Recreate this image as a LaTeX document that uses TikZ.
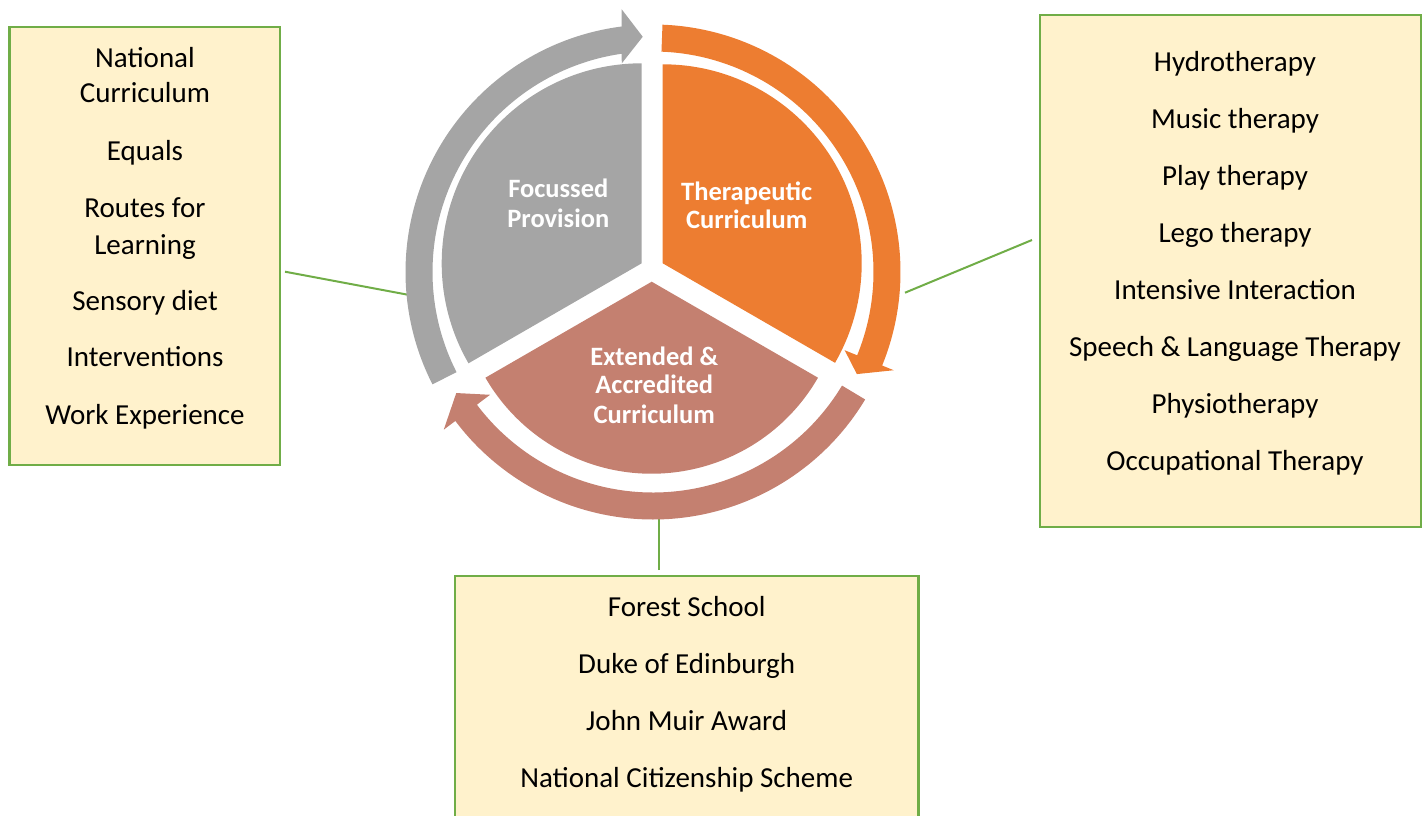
\documentclass[tikz,border=0pt]{standalone}
\usepackage{fontspec}
\setmainfont{Carlito}
\definecolor{segGray}{HTML}{A5A5A5}
\definecolor{segOrange}{HTML}{ED7D31}
\definecolor{segBrown}{HTML}{C48070}
\definecolor{boxFill}{HTML}{FFF2CC}
\definecolor{boxLine}{HTML}{70AD47}
\begin{document}
\begin{tikzpicture}[x=1pt,y=-1pt,
  listbox/.style={draw=boxLine, fill=boxFill, line width=2.3pt, inner sep=0pt},
  listtext/.style={font=\fontsize{29}{35}\selectfont, anchor=base, inner sep=0pt},
  segtext/.style={font=\fontsize{26.5}{30}\selectfont\bfseries, text=white, anchor=base, inner sep=0pt},
  link/.style={draw=boxLine, line width=2pt}]
\useasboundingbox (0,0) rectangle (1422,816);

% boxes
\node[listbox, minimum width=270.7pt, minimum height=437.7pt] (leftbox) at (144.7,246.2) {};
\node[listbox, minimum width=381pt, minimum height=512pt] (rightbox) at (1230.5,271) {};
\node[listbox, minimum width=463.3pt, minimum height=254pt] (bottombox) at (686.7,703) {};

% connector end points
\coordinate (lA) at (285,271.7);
\coordinate (lB) at (409.3,295);
\coordinate (rA) at (1032,240);
\coordinate (rB) at (905,292.7);
\coordinate (bA) at (659,570);
\coordinate (bB) at (659,514);
\draw[link] (lA) -- (lB);
\draw[link] (rA) -- (rB);
\draw[link] (bA) -- (bB);

% pie segments
\fill[segGray] (641.7,263.3) -- ++(-90:200) arc[start angle=-90, end angle=-210, radius=200] -- cycle;
\fill[segOrange] (662.7,263.3) -- ++(-90:199) arc[start angle=-90, end angle=30, radius=199] -- cycle;
\fill[segBrown] (651.7,281.7) -- ++(30:192) arc[start angle=30, end angle=150, radius=192] -- cycle;

% circular arrows
\begin{scope}[shift={(653,272)}]
\fill[segGray] (-207:247.5) arc[start angle=-207, end angle=-97.3, radius=247.5]
  -- (-96.8:264.6) -- (-92.5:235.5) -- (-98.5:211) -- (-98.2:220.5)
  arc[start angle=-98.2, end angle=-207, radius=220.5] -- cycle;
\fill[segOrange] (-87.8:247.5) arc[start angle=-87.8, end angle=22.2, radius=247.5]
  -- (22.2:260) -- (26.6:228) -- (22.2:207) -- (22.2:220.5)
  arc[start angle=22.2, end angle=-87.8, radius=220.5] -- cycle;
\fill[segBrown] (31:247.5) arc[start angle=31, end angle=143, radius=247.5]
  -- (143:262) -- (148.4:231) -- (143:204) -- (143:220.5)
  arc[start angle=143, end angle=31, radius=220.5] -- cycle;
\end{scope}

% segment labels
\node[segtext] (fp1) at (558.3,197.3) {Focussed};
\node[segtext] (fp2) at (558.3,227.3) {Provision};
\node[segtext] (tc1) at (746.7,200) {Therapeutic};
\node[segtext] (tc2) at (746.7,228.3) {Curriculum};
\node[segtext] (ea1) at (654.3,365) {Extended \&};
\node[segtext] (ea2) at (654.3,393.3) {Accredited};
\node[segtext] (ea3) at (654.3,423.3) {Curriculum};

% list texts
\foreach \t/\y [count=\i] in {National/67.3, Curriculum/102.7, Equals/160, Routes for/217.3,
  Learning/254, Sensory diet/310, Interventions/366.7, Work Experience/424}
  \node[listtext] (left\i) at (145,\y) {\t};
\foreach \t/\y [count=\i] in {Hydrotherapy/71.5, Music therapy/128.5, Play therapy/185.5,
  Lego therapy/242.5, Intensive Interaction/299.5, Speech \& Language Therapy/356.5,
  Physiotherapy/413.5, Occupational Therapy/470.5}
  \node[listtext] (right\i) at (1235,\y) {\t};
\foreach \t/\y [count=\i] in {Forest School/616, Duke of Edinburgh/673,
  John Muir Award/730, National Citizenship Scheme/787}
  \node[listtext] (bottom\i) at (686.7,\y) {\t};
\end{tikzpicture}
\end{document}
